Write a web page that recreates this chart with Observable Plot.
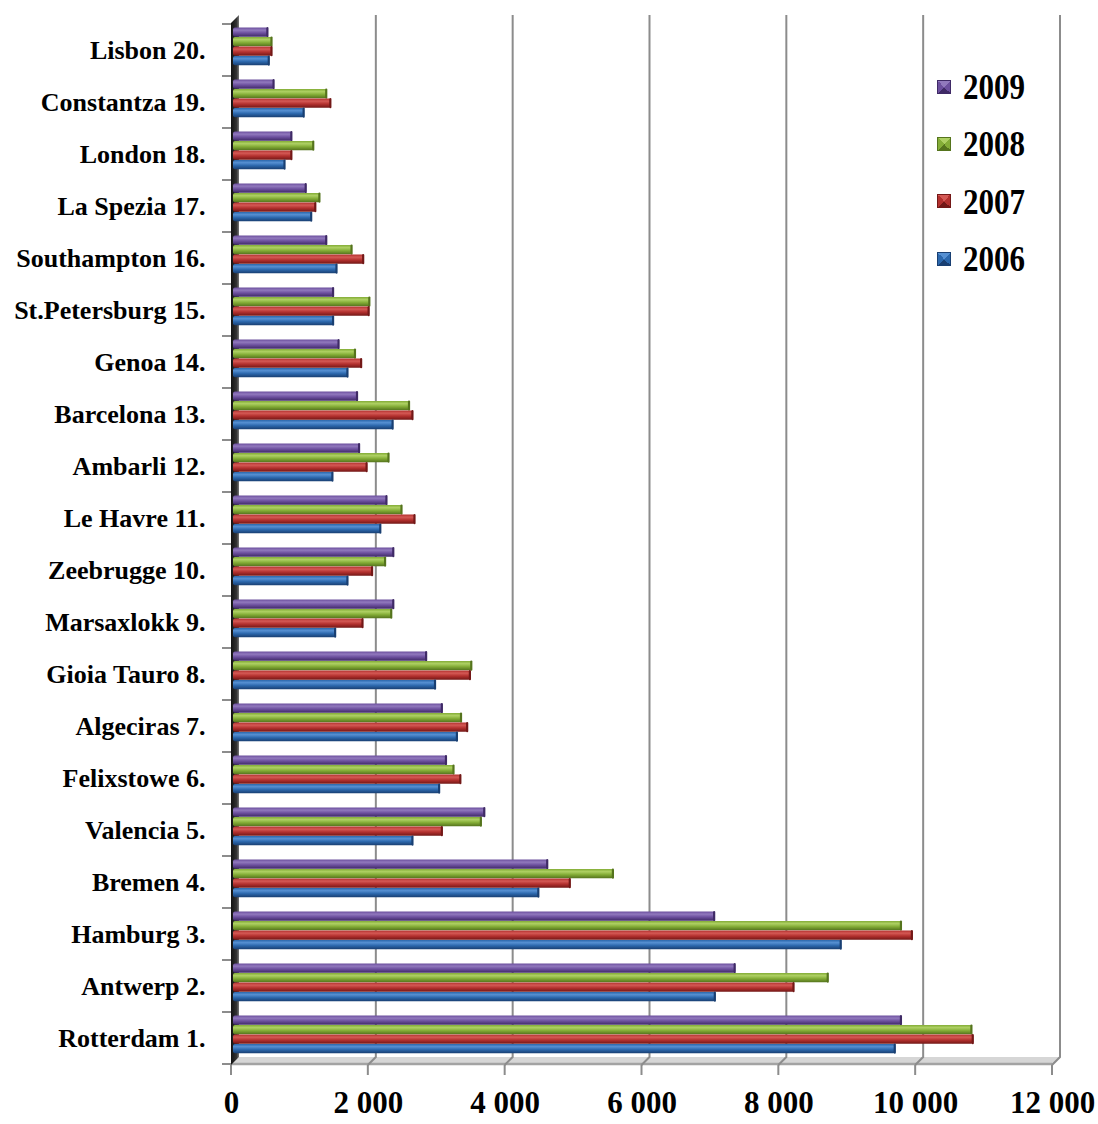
<!DOCTYPE html>
<html><head><meta charset="utf-8">
<script src="https://cdn.jsdelivr.net/npm/d3@7"></script>
<script src="https://cdn.jsdelivr.net/npm/@observablehq/plot@0.6"></script>
<style>
body{margin:0;background:#fff;}
#wrap{position:relative;width:1098px;height:1124px;}
#legend{position:absolute;left:937px;top:58px;font-family:"Liberation Serif","Times New Roman",serif;font-weight:bold;color:#000;}
.item{display:flex;align-items:center;height:57.3px;}
.sw{width:14px;height:14px;margin-right:12px;flex:none;}
.lab{font-size:31px;line-height:1;transform:scaleY(1.15);}
</style></head><body><div id="wrap"><div id="legend"></div></div>
<script>
// ---- data ----
const ports = ["Rotterdam 1.","Antwerp 2.","Hamburg 3.","Bremen 4.","Valencia 5.","Felixstowe 6.","Algeciras 7.","Gioia Tauro 8.","Marsaxlokk 9.","Zeebrugge 10.","Le Havre 11.","Ambarli 12.","Barcelona 13.","Genoa 14.","St.Petersburg 15.","Southampton 16.","La Spezia 17.","London 18.","Constantza 19.","Lisbon 20."];
const years = ["2009","2008","2007","2006"];
const v2006 = [9680,7050,8890,4470,2630,3020,3280,2960,1500,1680,2160,1460,2340,1680,1470,1520,1150,760,1040,530];
const v2007 = [10820,8200,9930,4930,3060,3330,3430,3470,1900,2040,2660,1960,2630,1880,1990,1910,1210,860,1430,570];
const v2008 = [10800,8700,9770,5560,3630,3230,3340,3490,2320,2230,2470,2280,2580,1790,2000,1740,1270,1180,1370,570];
const v2009 = [9770,7340,7040,4600,3680,3120,3060,2830,2350,2350,2250,1850,1820,1550,1470,1370,1070,860,600,510];
const xTicks = [0,2000,4000,6000,8000,10000,12000];

// ---- styles ----
const pal = { // [base, light, dark]
  "2009": ["#6c4f9e","#9179bd","#3f2a66"],
  "2008": ["#84ad37","#aed063","#55741d"],
  "2007": ["#b3302e","#d45955","#731817"],
  "2006": ["#2c68ad","#5690d2","#193f72"]
};
const series = {"2006": v2006, "2007": v2007, "2008": v2008, "2009": v2009};
const rows = years.flatMap(y => ports.map((p, i) => ({port: p, year: y, value: series[y][i]})));

const W = 1098, H = 1124, ML = 231, MR = 46, MT = 23, MB = 59, D = 8;
const bw = (H - MT - MB) / ports.length;
const barTop0 = 3.6, barStep = 9.5, barH = 9.2;
const font = "'Liberation Serif','Times New Roman',serif";

function defs() {
  const g = d3.create("svg:defs");
  for (const y of years) {
    const c = pal[y];
    const lg = g.append("linearGradient").attr("id", "g" + y).attr("x1", 0).attr("y1", 0).attr("x2", 0).attr("y2", 1);
    lg.append("stop").attr("offset", "0%").attr("stop-color", c[0]);
    lg.append("stop").attr("offset", "28%").attr("stop-color", c[1]);
    lg.append("stop").attr("offset", "60%").attr("stop-color", c[0]);
    lg.append("stop").attr("offset", "100%").attr("stop-color", c[2]);
  }
  const wg = g.append("linearGradient").attr("id", "wall").attr("x1", 0).attr("y1", 0).attr("x2", 1).attr("y2", 0);
  wg.append("stop").attr("offset", "0%").attr("stop-color", "#111");
  wg.append("stop").attr("offset", "70%").attr("stop-color", "#333");
  wg.append("stop").attr("offset", "100%").attr("stop-color", "#777");
  return g.node();
}

function backdrop(index, scales, values, dims) {
  const x = scales.x;
  const x0 = dims.marginLeft, x1 = dims.width - dims.marginRight;
  const y0 = dims.marginTop, y1 = dims.height - dims.marginBottom;
  const g = d3.create("svg:g");
  // floor
  g.append("polygon").attr("points", [[x0, y1], [x1, y1], [x1 + D, y1 - D], [x0 + D, y1 - D]].join(" "))
    .attr("fill", "#d6d6d6");
  g.append("line").attr("x1", x0).attr("x2", x1).attr("y1", y1 - 1).attr("y2", y1 - 1)
    .attr("stroke", "#a3a3a3").attr("stroke-width", 2.5);
  // back gridlines (with floor diagonals)
  for (const t of xTicks.slice(1)) {
    const px = x(t);
    g.append("path").attr("d", `M${px},${y1}L${px + D},${y1 - D}V${y0 - D}`)
      .attr("fill", "none").attr("stroke", "#8c8c8c").attr("stroke-width", 2);
  }
  // front tick marks
  for (const t of xTicks) {
    const px = x(t);
    g.append("line").attr("x1", px).attr("x2", px).attr("y1", y1).attr("y2", y1 + 10)
      .attr("stroke", "#8c8c8c").attr("stroke-width", 2);
  }
  // left tick marks at band boundaries
  const ys = scales.y;
  const bounds = ports.map(p => ys(p)).concat([ys(ports[0]) + ys.bandwidth()]);
  for (const b of bounds) {
    g.append("line").attr("x1", x0 - 9).attr("x2", x0).attr("y1", b).attr("y2", b)
      .attr("stroke", "#8c8c8c").attr("stroke-width", 2);
  }
  // side wall
  g.append("polygon").attr("points", [[x0, y1], [x0, y0], [x0 + D, y0 - D], [x0 + D, y1 - D]].join(" "))
    .attr("fill", "url(#wall)");
  return g.node();
}

const barMarks = years.flatMap((y, i) => {
  const top = barTop0 + i * barStep;
  const bottom = bw - top - barH;
  const data = rows.filter(r => r.year === y);
  return [
    Plot.barX(data, {x: "value", y: "port", dx: 2, fill: "url(#g" + y + ")", insetTop: top, insetBottom: bottom, rx: 2}),
    Plot.tickX(data, {x: "value", y: "port", dx: 1, stroke: pal[y][2], strokeWidth: 2.2, insetTop: top + 0.5, insetBottom: bottom + 0.5, strokeLinecap: "round"})
  ];
});

const fmt = d => d3.format(",")(d).replace(/,/g, " ");

const chart = Plot.plot({
  width: W, height: H,
  marginLeft: ML, marginRight: MR, marginTop: MT, marginBottom: MB,
  style: {fontFamily: font, background: "#fff", overflow: "visible"},
  x: {domain: [0, 12000], axis: null},
  y: {domain: ports.slice().reverse(), axis: null, padding: 0},
  marks: [
    defs,
    backdrop,
    ...barMarks,
    Plot.text(ports, {y: d => d, text: d => d, frameAnchor: "left", textAnchor: "end", dx: -26, fontSize: 26, fontWeight: "bold", fill: "#000"}),
    Plot.text(xTicks, {x: d => d, text: fmt, frameAnchor: "bottom", dy: 47, fontSize: 31, fontWeight: "bold", fill: "#000"})
  ]
});
const wrap = document.getElementById("wrap");
wrap.insertBefore(chart, wrap.firstChild);

// legend
const legend = d3.select("#legend");
for (const y of years) {
  const c = pal[y];
  const it = legend.append("div").attr("class", "item");
  it.append("div").attr("class", "sw")
    .style("background", `conic-gradient(from -45deg, ${c[1]} 0deg 90deg, ${c[0]} 90deg 180deg, ${c[2]} 180deg 270deg, ${c[0]} 270deg 360deg)`)
    .style("box-shadow", `inset 0 0 0 1px ${c[2]}`);
  it.append("div").attr("class", "lab").text(y);
}
</script>
</body></html>
